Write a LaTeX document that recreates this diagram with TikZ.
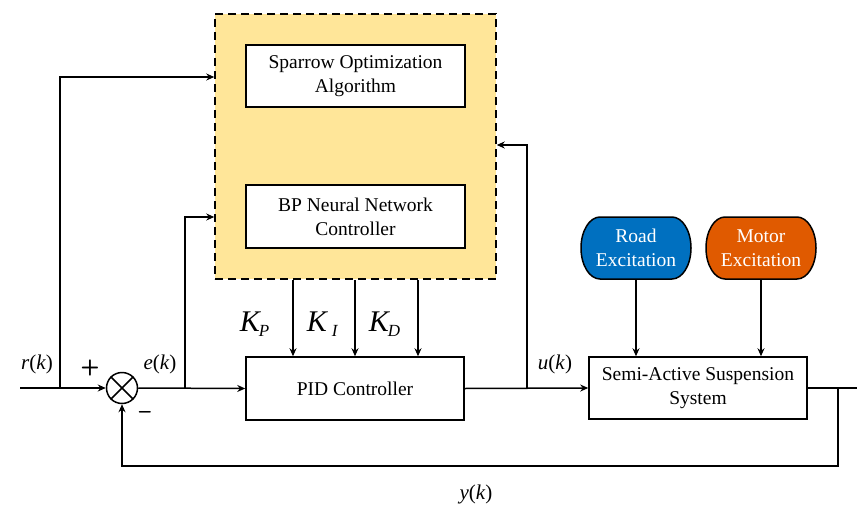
\documentclass[tikz,border=0pt]{standalone}
\usepackage{fontspec}
\setmainfont{Liberation Serif}
\usetikzlibrary{arrows.meta,calc}
\definecolor{blockfill}{HTML}{FFE699}
\definecolor{roadblue}{HTML}{0070C0}
\definecolor{motororange}{HTML}{E05A00}
% terminal-like outline with elliptical ends, centred on a coordinate
\newcommand\capsuleat[2]{%
  \filldraw[fill=#2] ($(#1)+(-36,-31)$)
    arc[start angle=90,end angle=270,x radius=19pt,y radius=31pt]
    -- ($(#1)+(36,31)$)
    arc[start angle=-90,end angle=90,x radius=19pt,y radius=31pt]
    -- cycle;}
\begin{document}
\begin{tikzpicture}[x=1pt,y=-1pt,
  line width=1.5pt,
  arr/.style={-{Stealth[length=8pt,width=7pt]}},
  block/.style={draw,fill=white,align=center,font=\fontsize{19.5}{24}\selectfont,inner sep=0pt},
  excit/.style={align=center,text=white,font=\fontsize{19.5}{24}\selectfont,minimum width=110pt,minimum height=62pt,inner sep=0pt},
  sig/.style={font=\fontsize{21}{24}\selectfont},
  gain/.style={font=\fontsize{30}{32}\selectfont},
  sub/.style={font=\fontsize{17}{18}\selectfont}
]
\useasboundingbox (0,0) rectangle (857,506);

% optimisation / tuning layer
\node[draw,dash pattern=on 8pt off 5pt,fill=blockfill,minimum width=281pt,minimum height=265pt,inner sep=0pt] (tune) at (355.5,146.5) {};
\node[block,minimum width=219pt,minimum height=62pt] (ssa) at (355.5,76) {Sparrow Optimization\\Algorithm};
\node[block,minimum width=219pt,minimum height=63pt] (bpnn) at (355.5,216.5) {BP Neural Network\\Controller};

% main loop blocks
\node[block,minimum width=218pt,minimum height=63pt] (pid) at (355,388.5) {PID Controller};
\node[block,minimum width=218pt,minimum height=62pt] (plant) at (698,388) {Semi-Active Suspension\\System};

% disturbance sources
\coordinate (roadc) at (636,248);
\coordinate (motorc) at (761,248);
\capsuleat{roadc}{roadblue}
\capsuleat{motorc}{motororange}
\node[excit] (road) at (roadc) {Road\\Excitation};
\node[excit] (motor) at (motorc) {Motor\\Excitation};

% summing junction
\node[draw,circle,minimum size=31pt,inner sep=0pt] (sum) at (122,388) {};
\draw (sum.north west) -- (sum.south east);
\draw (sum.north east) -- (sum.south west);

% branch points and free ends
\coordinate (in) at (20,388);
\coordinate (rb) at (60,388);
\coordinate (eb) at (185,388);
\coordinate (ub) at (527,388);
\coordinate (yb) at (838,388);
\coordinate (out) at (857,388);

% forward path
\draw[arr] (in) -- (sum.west);
\draw[arr] (sum.east) -- (pid.west);
\draw[arr] (pid.east) -- (plant.west);
\draw (plant.east) -- (out);

% feedback
\draw[arr] (yb) -- (838,466) -| (sum.south);

% signals into the tuning layer
\draw[arr] (rb) |- (tune.west |- 0,77);
\draw[arr] (eb) |- (tune.west |- 0,217);
\draw[arr] (ub) |- (tune.east |- 0,145);

% gains
\draw[arr] (tune.south -| 293,0) -- (pid.north -| 293,0);
\draw[arr] (tune.south -| 355,0) -- (pid.north -| 355,0);
\draw[arr] (tune.south -| 418,0) -- (pid.north -| 418,0);

% disturbances
\draw[arr] (road.south) -- (plant.north -| road.south);
\draw[arr] (motor.south) -- (plant.north -| motor.south);

% labels
\node[sig] at (37,364) {\textit{r}(\textit{k})};
\node[sig] at (160,364) {\textit{e}(\textit{k})};
\node[sig] at (555,364) {\textit{u}(\textit{k})};
\node[sig] at (476,494) {\textit{y}(\textit{k})};
\node[font=\sffamily\bfseries\fontsize{22}{24}\selectfont] at (90,368) {+};
\node[font=\sffamily\bfseries\fontsize{22}{24}\selectfont] at (145,415) {\textendash};
\node[gain,anchor=base west,inner sep=0pt] (kp) at (239,331) {\textit{K}};
\node[sub,anchor=base west,inner sep=0pt] at (258,336) {\textit{P}};
\node[gain,anchor=base west,inner sep=0pt] (ki) at (306,331) {\textit{K}};
\node[sub,anchor=base west,inner sep=0pt] at (331,336) {\textit{I}};
\node[gain,anchor=base west,inner sep=0pt] (kd) at (368,331) {\textit{K}};
\node[sub,anchor=base west,inner sep=0pt] at (387,336) {\textit{D}};
\end{tikzpicture}
\end{document}
